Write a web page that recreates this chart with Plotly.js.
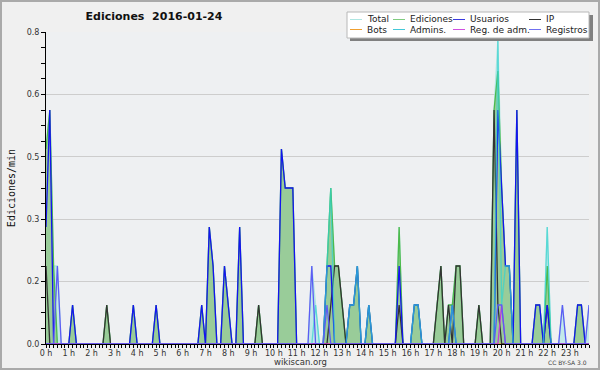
<!DOCTYPE html>
<html>
<head>
<meta charset="utf-8">
<script src="https://cdn.plot.ly/plotly-3.0.1.min.js"></script>
<style>
  html, body { margin: 0; padding: 0; background: #f0f0f0; }
  #chart { width: 600px; height: 370px; }
</style>
</head>
<body>
<div id="chart"></div>
<script>
// ---- Data: 144 ten-minute bins (6 per hour), values in edits/min ----
const hourLabels = ["0 h","1 h","2 h","3 h","4 h","5 h","6 h","7 h","8 h","9 h","10 h","11 h",
                    "12 h","13 h","14 h","15 h","16 h","17 h","18 h","19 h","20 h","21 h","22 h","23 h"];
const hourVals = [0,1,2,3,4,5,6,7,8,9,10,11,12,13,14,15,16,17,18,19,20,21,22,23];
const yTickVals = [0, 0.16, 0.32, 0.48, 0.64, 0.8];
const yTickText = ["0.0", "0.2", "0.3", "0.5", "0.6", "0.8"];

const total = [
  0.5,0.6,0.2,0.2,0,0,   0,0.1,0,0,0,0,   0,0,0,0,0.1,0,   0,0,0,0,0,0.1,
  0,0,0,0,0,0.1,   0,0,0,0,0,0,   0,0,0,0,0,0.1,   0,0.3,0.2,0,0,0.2,
  0.1,0,0,0.3,0,0,   0,0,0.1,0,0,0,   0,0,0.5,0.4,0.4,0.4,   0,0,0,0,0.2,0.1,
  0,0,0.2,0.4,0.2,0.2,   0.1,0,0.1,0.1,0.2,0,   0,0.1,0,0,0,0,   0,0,0,0.3,0,0,
  0,0.1,0.1,0,0,0,   0,0.1,0.2,0,0.1,0.1,   0.2,0.2,0,0,0,0,   0.1,0,0,0,0.6,0.78,
  0.4,0.2,0.2,0,0.6,0,   0,0,0,0.1,0.1,0,   0.3,0,0,0,0.1,0,   0,0,0.1,0.1,0,0.1
];
const ediciones = [
  0.5,0.6,0.2,0,0,0,   0,0.1,0,0,0,0,   0,0,0,0,0.1,0,   0,0,0,0,0,0.1,
  0,0,0,0,0,0.1,   0,0,0,0,0,0,   0,0,0,0,0,0.1,   0,0.3,0.2,0,0,0.2,
  0.1,0,0,0.3,0,0,   0,0,0.1,0,0,0,   0,0,0.5,0.4,0.4,0.4,   0,0,0,0,0,0,
  0,0,0.2,0.4,0.2,0.2,   0.1,0,0.1,0.1,0.2,0,   0,0.1,0,0,0,0,   0,0,0,0.3,0,0,
  0,0.1,0.1,0,0,0,   0,0.1,0.2,0,0.1,0.1,   0.2,0.2,0,0,0,0,   0.1,0,0,0,0.6,0.7,
  0.4,0.2,0.2,0,0.6,0,   0,0,0,0.1,0.1,0,   0.2,0,0,0,0,0,   0,0,0.1,0.1,0,0
];
const usuarios = [
  0.3,0.6,0,0,0,0,   0,0.1,0,0,0,0,   0,0,0,0,0,0,   0,0,0,0,0,0.1,
  0,0,0,0,0,0.1,   0,0,0,0,0,0,   0,0,0,0,0,0.1,   0,0.3,0.2,0,0,0.2,
  0.1,0,0,0.3,0,0,   0,0,0,0,0,0,   0,0,0.5,0.4,0.4,0.4,   0,0,0,0,0,0,
  0,0,0.2,0.2,0,0,   0,0,0.1,0.1,0.2,0,   0,0.1,0,0,0,0,   0,0,0,0.2,0,0,
  0,0.1,0.1,0,0,0,   0,0,0,0,0,0.1,   0,0,0,0,0,0,   0,0,0,0,0,0.6,
  0.4,0.2,0.2,0,0.6,0,   0,0,0,0.1,0.1,0,   0.1,0,0,0,0,0,   0,0,0.1,0.1,0,0
];
const ip = [
  0.2,0,0,0,0,0,   0,0,0,0,0,0,   0,0,0,0,0.1,0,   0,0,0,0,0,0,
  0,0,0,0,0,0,   0,0,0,0,0,0,   0,0,0,0,0,0,   0,0,0,0,0,0,
  0,0,0,0,0,0,   0,0,0.1,0,0,0,   0,0,0,0,0,0,   0,0,0,0,0,0,
  0,0,0,0.1,0.2,0.2,   0.1,0,0,0,0,0,   0,0,0,0,0,0,   0,0,0,0.1,0,0,
  0,0,0,0,0,0,   0,0.1,0.2,0,0.1,0,   0.2,0.2,0,0,0,0,   0.1,0,0,0,0.6,0.1,
  0,0,0,0,0,0,   0,0,0,0,0,0,   0.1,0,0,0,0,0,   0,0,0,0,0,0
];
const bots = [
  0,0,0,0,0,0, 0,0,0,0,0,0, 0,0,0,0,0,0, 0,0,0,0,0,0,
  0,0,0,0,0,0, 0,0,0,0,0,0, 0,0,0,0,0,0, 0,0,0,0,0,0,
  0,0,0,0,0,0, 0,0,0,0,0,0, 0,0,0,0,0,0, 0,0,0,0,0,0,
  0,0,0,0,0,0, 0,0,0,0,0,0, 0,0,0,0,0,0, 0,0,0,0,0,0,
  0,0,0,0,0,0, 0,0,0,0,0,0, 0,0,0,0,0,0, 0,0,0,0,0,0,
  0,0,0,0,0,0, 0,0,0,0,0,0, 0,0,0,0,0,0, 0,0,0,0,0,0
];
const admins = [
  0,0,0,0,0,0,   0,0,0,0,0,0,   0,0,0,0,0,0,   0,0,0,0,0,0,
  0,0,0,0,0,0,   0,0,0,0,0,0,   0,0,0,0,0,0,   0,0,0,0,0,0,
  0,0,0,0,0,0,   0,0,0,0,0,0,   0,0,0,0,0,0,   0,0,0,0,0,0.1,
  0,0,0.2,0.4,0,0,   0,0,0.1,0.1,0.2,0,   0,0.1,0,0,0,0,   0,0,0,0,0,0,
  0,0.1,0.1,0,0,0,   0,0,0,0,0,0.1,   0,0,0,0,0,0,   0,0,0,0,0,0.78,
  0.1,0.2,0.2,0,0,0,   0,0,0,0,0,0,   0.3,0,0,0,0,0,   0,0,0,0,0,0
];
const regAdm = [
  0,0,0,0,0,0, 0,0,0,0,0,0, 0,0,0,0,0,0, 0,0,0,0,0,0,
  0,0,0,0,0,0, 0,0,0,0,0,0, 0,0,0,0,0,0, 0,0,0,0,0,0,
  0,0,0,0,0,0, 0,0,0,0,0,0, 0,0,0,0,0,0, 0,0,0,0,0,0,
  0,0,0,0,0,0, 0,0,0,0,0,0, 0,0,0,0,0,0, 0,0,0,0,0,0,
  0,0,0,0,0,0, 0,0,0,0,0,0, 0,0,0,0,0,0, 0,0,0,0,0,0,
  0.1,0,0,0,0,0, 0,0,0,0,0,0, 0,0,0,0,0,0, 0,0,0,0,0,0
];
const registros = [
  0,0,0,0.2,0,0,   0,0,0,0,0,0,   0,0,0,0,0,0,   0,0,0,0,0,0,
  0,0,0,0,0,0,   0,0,0,0,0,0,   0,0,0,0,0,0,   0,0,0,0,0,0,
  0,0,0,0,0,0,   0,0,0,0,0,0,   0,0,0,0,0,0,   0,0,0,0,0.2,0,
  0,0,0.1,0,0,0,   0,0,0,0,0,0,   0,0,0,0,0,0,   0,0,0,0,0,0,
  0,0,0,0,0,0,   0,0,0,0,0,0,   0,0,0,0,0,0,   0,0,0,0,0,0.1,
  0.1,0,0,0,0,0,   0,0,0,0,0,0,   0,0,0,0,0.1,0,   0,0,0,0,0,0.1
];
// time of each ten-minute bin, in hours
const times = total.map((_, i) => i / 6);

// ---- Styling ----
const C = {
  total: '#aee6e2', totalFill: 'rgba(186,232,232,0.85)',
  ed: '#4cba4c', edFill: '#99cc99',
  us: '#1414f0', ip: '#333333', bots: '#f0a030',
  adm: '#33d3d0', regAdm: '#c43cd8', reg: '#5c5cf4'
};

function line(name, y, color, extra) {
  return Object.assign({
    type: 'scatter', mode: 'lines', name: name, x: times, y: y,
    line: { color: color, width: 1.3 }, hoverinfo: 'skip'
  }, extra || {});
}

const traces = [
  line('Total', total, C.total, { fill: 'tozeroy', fillcolor: C.totalFill }),
  line('Ediciones', ediciones, C.ed, { fill: 'tozeroy', fillcolor: C.edFill }),
  line('Bots', bots, C.bots),
  line('IP', ip, C.ip),
  line('Usuarios', usuarios, C.us),
  line('Admins.', admins, C.adm, { opacity: 0.7 }),
  line('Reg. de adm.', regAdm, C.regAdm),
  line('Registros', registros, C.reg)
];

// pixel -> paper helpers (plot area: x 46..589, y 32..344)
const L = 46, R = 11, T = 32, B = 26, W = 600, H = 370;
const PW = W - L - R, PH = H - T - B;
const px = v => (v - L) / PW;
const py = v => (H - B - v) / PH;

const shapes = [];
const annotations = [];

// outer frame
shapes.push({ type: 'rect', xref: 'paper', yref: 'paper',
  x0: px(1), x1: px(599), y0: py(1), y1: py(369),
  line: { color: '#aaaaaa', width: 2 }, fillcolor: 'rgba(0,0,0,0)' });

// legend box with shadow
shapes.push({ type: 'rect', xref: 'paper', yref: 'paper',
  x0: px(350), x1: px(593), y0: py(15), y1: py(41),
  line: { width: 0 }, fillcolor: '#808080' });
shapes.push({ type: 'rect', xref: 'paper', yref: 'paper',
  x0: px(347), x1: px(589), y0: py(12), y1: py(38),
  line: { color: '#b8b8b8', width: 1 }, fillcolor: '#ffffff' });

const legendItems = [
  ['Total', C.total, 350, 19.5], ['Ediciones', '#80cc80', 393, 19.5],
  ['Usuarios', '#3a3ae0', 453, 19.5], ['IP', C.ip, 529, 19.5],
  ['Bots', C.bots, 350, 29.5], ['Admins.', '#44c8d8', 393, 29.5],
  ['Reg. de adm.', '#d050e0', 453, 29.5], ['Registros', '#7070f0', 529, 29.5]
];
legendItems.forEach(([name, color, x, y]) => {
  shapes.push({ type: 'line', xref: 'paper', yref: 'paper',
    x0: px(x), x1: px(x + 12), y0: py(y), y1: py(y),
    line: { color: color, width: 1 } });
  annotations.push({ xref: 'paper', yref: 'paper', x: px(x + 15), y: py(y),
    xanchor: 'left', yanchor: 'middle', showarrow: false, text: name,
    font: { family: 'DejaVu Sans', size: 9, color: '#222' } });
});

annotations.push({ xref: 'paper', yref: 'paper', x: px(300), y: py(362),
  xanchor: 'center', yanchor: 'middle', showarrow: false, text: 'wikiscan.org',
  font: { family: 'DejaVu Sans', size: 8.5, color: '#333' } });
annotations.push({ xref: 'paper', yref: 'paper', x: px(589), y: py(362.5),
  xanchor: 'right', yanchor: 'middle', showarrow: false, text: 'CC BY-SA 3.0',
  font: { family: 'DejaVu Sans', size: 6, color: '#444' } });

const layout = {
  width: W, height: H,
  margin: { l: L, r: R, t: T, b: B, pad: 0 },
  paper_bgcolor: '#f0f0f0',
  plot_bgcolor: '#eef0f2',
  showlegend: false,
  title: {
    text: '<b>Ediciones\u00a0 2016-01-24</b>',
    x: 154 / W, xanchor: 'center', xref: 'container',
    y: 1 - 16.5 / H, yanchor: 'middle', yref: 'container',
    font: { family: 'DejaVu Sans', size: 11, color: '#111' }
  },
  xaxis: {
    range: [0, 143 / 6], fixedrange: true,
    tickmode: 'array', tickvals: hourVals, ticktext: hourLabels,
    ticks: 'outside', ticklen: 3, tickwidth: 1, tickcolor: '#000',
    ticklabelstandoff: -2,
    showline: true, linecolor: '#000', linewidth: 1,
    showgrid: false, zeroline: false,
    tickfont: { family: 'DejaVu Sans', size: 8, color: '#333' },
    minor: { ticks: 'outside', ticklen: 3, tickwidth: 1, tickcolor: '#000',
             tick0: 0, dtick: 1 / 6, showgrid: false }
  },
  yaxis: {
    range: [0, 0.8], fixedrange: true,
    tickmode: 'array', tickvals: yTickVals, ticktext: yTickText,
    ticks: 'outside', ticklen: 4, tickwidth: 1, tickcolor: '#000',
    showline: true, linecolor: '#000', linewidth: 1,
    showgrid: true, gridcolor: '#cdcdcd', gridwidth: 1, zeroline: false,
    tickfont: { family: 'DejaVu Sans', size: 8, color: '#333' },
    minor: { ticks: 'outside', ticklen: 4, tickwidth: 1, tickcolor: '#000',
             tick0: 0, dtick: 0.04, showgrid: false },
    title: { text: 'Ediciones/min', standoff: 9,
             font: { family: 'DejaVu Sans Mono', size: 10, color: '#111' } }
  },
  shapes: shapes,
  annotations: annotations
};

Plotly.newPlot('chart', traces, layout, { displayModeBar: false, staticPlot: true });
</script>
</body>
</html>
